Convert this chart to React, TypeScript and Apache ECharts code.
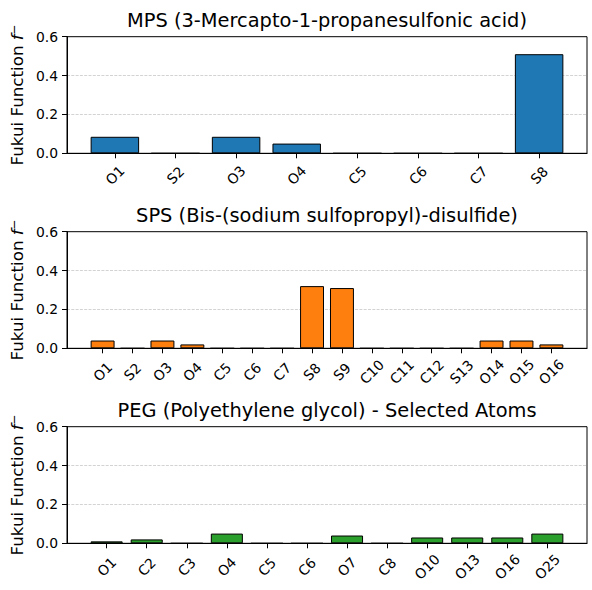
import React, { useEffect, useRef } from "react";
import * as echarts from "echarts";

const mpsAtoms = ["O1", "S2", "O3", "O4", "C5", "C6", "C7", "S8"];
const mpsValues = [0.085, 0, 0.085, 0.05, 0, 0, 0, 0.51];

const spsAtoms = ["O1", "S2", "O3", "O4", "C5", "C6", "C7", "S8", "S9", "C10", "C11", "C12", "S13", "O14", "O15", "O16"];
const spsValues = [0.04, 0, 0.04, 0.02, 0, 0, 0, 0.32, 0.31, 0, 0, 0, 0, 0.04, 0.04, 0.02];

const pegAtoms = ["O1", "C2", "C3", "O4", "C5", "C6", "O7", "C8", "O10", "O13", "O16", "O25"];
const pegValues = [0.01, 0.02, 0, 0.05, 0, 0, 0.04, 0, 0.03, 0.03, 0.03, 0.05];

const titles = [
  "MPS (3-Mercapto-1-propanesulfonic acid)",
  "SPS (Bis-(sodium sulfopropyl)-disulfide)",
  "PEG (Polyethylene glycol) - Selected Atoms",
];
const colors = ["#1f77b4", "#ff7f0e", "#2ca02c"];
const yMin = 0;
const yMax = 0.6;
const yStep = 0.2;

const FONT = "DejaVu Sans";

export default function App() {
  const ref = useRef<HTMLDivElement>(null);

  useEffect(() => {
    if (!ref.current) return;
    const chart = echarts.init(ref.current, null, { renderer: "svg" });

    const panels = [
      { atoms: mpsAtoms, values: mpsValues },
      { atoms: spsAtoms, values: spsValues },
      { atoms: pegAtoms, values: pegValues },
    ];
    const tops = [36.7, 231.7, 426.7];
    const gridLeft = 67;
    const gridWidth = 520;
    const gridHeight = 116.6;

    const grid: any[] = [];
    const xAxis: any[] = [];
    const yAxis: any[] = [];
    const series: any[] = [];
    const title: any[] = [];

    panels.forEach((p, i) => {
      const n = p.atoms.length;
      const span = n - 1 + 0.8;
      const pad = 0.05 * span;
      const xmin = -0.4 - pad;
      const xmax = n - 1 + 0.4 + pad;
      const pxPerUnit = gridWidth / (xmax - xmin);
      const idx = p.atoms.map((_, j) => j);

      grid.push({
        left: gridLeft,
        width: gridWidth,
        top: tops[i],
        height: gridHeight,
        show: true,
        borderColor: "#000",
        borderWidth: 1,
        backgroundColor: "transparent",
      });
      title.push({
        text: titles[i],
        left: gridLeft + gridWidth / 2,
        textAlign: "center",
        top: tops[i] - 25.5,
        padding: 0,
        textStyle: { fontFamily: FONT, fontSize: 19.4, fontWeight: "normal", color: "#000" },
      });
      xAxis.push({
        type: "value",
        gridIndex: i,
        min: xmin,
        max: xmax,
        axisLine: { show: true, onZero: false, lineStyle: { color: "#000", width: 1 } },
        axisTick: { show: true, customValues: idx, length: 5, lineStyle: { color: "#000", width: 1 } },
        axisLabel: {
          customValues: idx,
          formatter: (v: number) => p.atoms[Math.round(v)] ?? "",
          rotate: 45,
          align: "center",
          verticalAlign: "middle",
          margin: i === 0 ? 22 : 23.5,
          fontSize: 13.9,
          fontFamily: FONT,
          color: "#000",
        },
        splitLine: { show: false },
      });
      yAxis.push({
        type: "value",
        gridIndex: i,
        min: yMin,
        max: yMax,
        interval: yStep,
        axisLine: { show: true, onZero: false, lineStyle: { color: "#000", width: 1 } },
        axisTick: { show: true, length: 5, lineStyle: { color: "#000", width: 1 } },
        axisLabel: {
          formatter: (v: number) => v.toFixed(1),
          fontSize: 13.9,
          fontFamily: FONT,
          color: "#000",
          margin: 9,
        },
        splitLine: {
          show: true,
          showMinLine: false,
          showMaxLine: false,
          lineStyle: { color: "#b0b0b0", opacity: 0.7, width: 0.8, type: [3, 1.3] },
        },
        name: "{a|Fukui Function }{b|f}{c|−}",
        nameLocation: "middle",
        nameGap: 38,
        nameTextStyle: {
          fontFamily: FONT,
          fontSize: 16.7,
          color: "#000",
          rich: {
            a: { fontFamily: FONT, fontSize: 16.7, color: "#000" },
            b: { fontFamily: FONT, fontSize: 16.7, fontStyle: "italic", color: "#000" },
            c: { fontFamily: FONT, fontSize: 11.7, color: "#000", verticalAlign: "top" },
          },
        },
      });
      series.push({
        type: "bar",
        xAxisIndex: i,
        yAxisIndex: i,
        data: p.values.map((v, j) => [j, v]),
        barWidth: 0.8 * pxPerUnit,
        itemStyle: { color: colors[i], borderColor: "#000", borderWidth: 1 },
        silent: true,
      });
    });

    chart.setOption({
      animation: false,
      backgroundColor: "#fff",
      textStyle: { fontFamily: FONT },
      title,
      grid,
      xAxis,
      yAxis,
      series,
    });

    return () => chart.dispose();
  }, []);

  return (
    <div
      ref={ref}
      style={{ position: "fixed", left: 0, top: 0, width: 592, height: 590, background: "#fff" }}
    />
  );
}
